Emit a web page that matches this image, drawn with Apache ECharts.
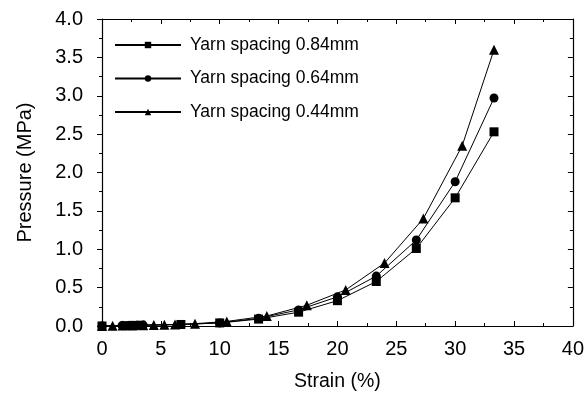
<!DOCTYPE html>
<html>
<head>
<meta charset="utf-8">
<script src="https://cdn.jsdelivr.net/npm/echarts@6/dist/echarts.min.js"></script>
<style>
  html, body { margin: 0; padding: 0; background: #fff; }
  #chart { width: 587px; height: 398px; }
</style>
</head>
<body>
<div id="chart"></div>
<script>
// values
const strain084 = [0, 2.0, 2.6, 3.3, 6.7, 10.0, 13.3, 16.7, 20.0, 23.3, 26.7, 30.0, 33.3];
const pressure084 = [0, 0.005, 0.008, 0.01, 0.02, 0.04, 0.09, 0.18, 0.33, 0.58, 1.01, 1.67, 2.53];

const strain064 = [0, 1.7, 2.3, 3.0, 3.5, 6.7, 10.0, 13.3, 16.7, 20.0, 23.3, 26.7, 30.0, 33.3];
const pressure064 = [0, 0.005, 0.008, 0.01, 0.012, 0.02, 0.04, 0.1, 0.21, 0.38, 0.65, 1.12, 1.88, 2.97];

const strain044 = [0, 0.9, 1.75, 2.6, 3.5, 4.4, 5.3, 6.2, 7.9, 10.6, 14.0, 17.4, 20.7, 24.0, 27.3, 30.6, 33.3];
const pressure044 = [0, 0.003, 0.005, 0.008, 0.01, 0.012, 0.015, 0.02, 0.03, 0.06, 0.13, 0.27, 0.47, 0.82, 1.40, 2.35, 3.60];

const seriesNames = ['Yarn spacing 0.84mm', 'Yarn spacing 0.64mm', 'Yarn spacing 0.44mm'];

const font = 'Liberation Sans, Arial, Helvetica, sans-serif';
const zip = (xs, ys) => xs.map((x, i) => [x, ys[i]]);

function lineSeries(name, data, symbol, size) {
  return {
    name,
    type: 'line',
    data,
    symbol,
    symbolSize: size,
    showAllSymbol: true,
    lineStyle: { color: '#000', width: 1 },
    itemStyle: { color: '#000' },
    emphasis: { disabled: true },
    animation: false,
  };
}

function axisStyle(inside) {
  return {
    axisLine: { show: true, onZero: false, lineStyle: { color: '#000', width: 1.2 } },
    axisTick: { show: true, inside, length: 5, lineStyle: { color: '#000' } },
    minorTick: { show: true, splitNumber: 2, length: 3, lineStyle: { color: '#000' } },
    splitLine: { show: false },
  };
}

const chart = echarts.init(document.getElementById('chart'));
chart.setOption({
  backgroundColor: '#fff',
  grid: { left: 102, right: 12, top: 19, bottom: 72 },
  legend: {
    left: 114,
    top: 36,
    padding: 0,
    orient: 'vertical',
    itemWidth: 66,
    itemHeight: 8,
    itemGap: 15.5,
    textStyle: { fontFamily: font, fontSize: 17.5, color: '#000', padding: [0, 0, 0, 4] },
    data: seriesNames,
  },
  xAxis: [
    Object.assign({}, axisStyle(true), {
      type: 'value',
      min: 0, max: 40, interval: 5,
      name: 'Strain (%)',
      nameLocation: 'middle',
      nameGap: 46,
      nameTextStyle: { fontFamily: font, fontSize: 19.5, color: '#000' },
      axisLabel: { fontFamily: font, fontSize: 20, color: '#000', margin: 13 },
    }),
    Object.assign({}, axisStyle(true), {
      type: 'value', position: 'top',
      min: 0, max: 40, interval: 5,
      axisLabel: { show: false },
    }),
  ],
  yAxis: [
    Object.assign({}, axisStyle(false), {
      type: 'value',
      min: 0, max: 4, interval: 0.5,
      name: 'Pressure (MPa)',
      nameLocation: 'middle',
      nameGap: 67,
      nameTextStyle: { fontFamily: font, fontSize: 20, color: '#000' },
      axisLabel: { fontFamily: font, fontSize: 20, color: '#000', margin: 19, formatter: v => v.toFixed(1) },
    }),
    Object.assign({}, axisStyle(true), {
      type: 'value', position: 'right',
      min: 0, max: 4, interval: 0.5,
      axisLabel: { show: false },
    }),
  ],
  series: [
    lineSeries(seriesNames[0], zip(strain084, pressure084), 'rect', 9),
    lineSeries(seriesNames[1], zip(strain064, pressure064), 'circle', 9),
    lineSeries(seriesNames[2], zip(strain044, pressure044), 'triangle', 10),
  ],
});
</script>
</body>
</html>
